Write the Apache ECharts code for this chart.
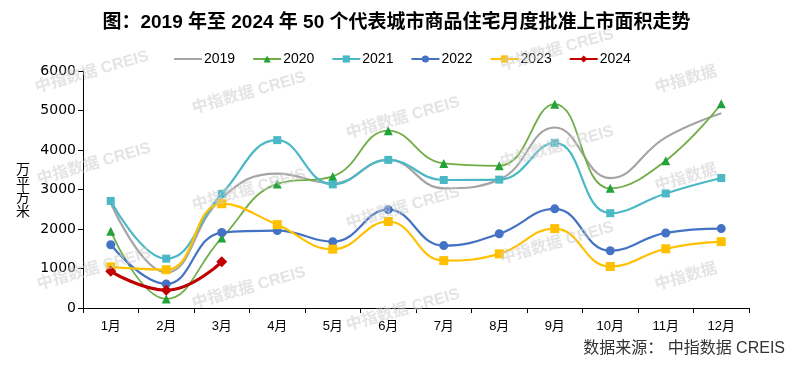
<!DOCTYPE html>
<html>
<head>
<meta charset="utf-8">
<script src="https://cdn.jsdelivr.net/npm/echarts@6/dist/echarts.min.js"></script>
<style>html,body{margin:0;padding:0;background:#fff;}#c{width:793px;height:367px;}</style>
</head>
<body>
<div id="c"></div>
<script>
const months = ['1月','2月','3月','4月','5月','6月','7月','8月','9月','10月','11月','12月'];
const s2019 = [2650, 900, 2780, 3400, 3160, 3750, 3030, 3250, 4570, 3290, 4320, 4930];
const s2020 = [1940, 230, 1770, 3140, 3330, 4490, 3660, 3600, 5160, 3030, 3730, 5170];
const s2021 = [2710, 1250, 2890, 4250, 3130, 3750, 3240, 3250, 4180, 2400, 2900, 3290];
const s2022 = [1600, 610, 1910, 1960, 1680, 2490, 1580, 1880, 2510, 1450, 1900, 2010];
const s2023 = [1040, 970, 2640, 2110, 1490, 2190, 1200, 1370, 2010, 1050, 1500, 1680];
const s2024 = [930, 450, 1170];
const yTicks = [0, 1000, 2000, 3000, 4000, 5000, 6000];

const chart = echarts.init(document.getElementById('c'), null, {renderer: 'canvas'});

const wmFont = {fontSize: 16, fontWeight: 'bold', fontFamily: 'Liberation Sans, Noto Sans CJK SC, sans-serif', fill: 'rgba(205,205,205,0.55)'};
const wmSpots = [
  [92, 72, '中指数据 CREIS'], [249, 93, '中指数据 CREIS'], [94, 164, '中指数据 CREIS'],
  [249, 190, '中指数据 CREIS'], [94, 269, '中指数据 CREIS'], [249, 288, '中指数据 CREIS'],
  [403, 118, '中指数据 CREIS'], [403, 208, '中指数据 CREIS'], [403, 310, '中指数据 CREIS'],
  [557, 50, '中指数据 CREIS'], [557, 147, '中指数据 CREIS'], [557, 243, '中指数据 CREIS'],
  [686, 80, '中指数据'], [686, 178, '中指数据'], [686, 277, '中指数据']
];
const graphics = wmSpots.map(p => ({
  type: 'text', x: p[0], y: p[1], rotation: 0.28, z: 100, silent: true,
  style: Object.assign({text: p[2], align: 'center', verticalAlign: 'middle'}, wmFont)
}));
graphics.push({
  type: 'text', right: 8, top: 341, z: 10,
  style: {text: '数据来源： 中指数据 CREIS', fontSize: 16, fill: '#333', fontFamily: 'Liberation Sans, Noto Sans CJK SC, sans-serif'}
});

function mk(name, data, color, symbol, size, width, markerColor) {
  return {
    name: name, type: 'line', data: data, smooth: 0.45,
    symbol: symbol, symbolSize: size, showSymbol: symbol !== 'none',
    lineStyle: {color: color, width: width},
    itemStyle: {color: markerColor || color},
    emphasis: {disabled: true}, animation: false
  };
}

chart.setOption({
  backgroundColor: '#fff',
  animation: false,
  title: {
    text: '图：2019 年至 2024 年 50 个代表城市商品住宅月度批准上市面积走势',
    left: 'center', top: 8,
    textStyle: {fontSize: 19, fontWeight: 'bold', color: '#000', fontFamily: 'Liberation Sans, Noto Sans CJK SC, sans-serif'}
  },
  legend: {
    left: 168, top: 47, itemWidth: 28, itemHeight: 9, itemGap: 17,
    textStyle: {fontSize: 14, color: '#000', fontFamily: 'Liberation Sans, sans-serif', padding: [0,0,0,-3]},
    data: [
      {name: '2019', itemStyle: {color: 'rgba(0,0,0,0)', borderWidth: 0}},
      '2020','2021','2022','2023','2024'
    ]
  },
  grid: {left: 83, right: 44, top: 71, bottom: 59, containLabel: false},
  xAxis: {
    type: 'category', data: months, boundaryGap: true,
    axisLine: {lineStyle: {color: '#000', width: 1}},
    axisTick: {show: true, length: 5, alignWithLabel: false, lineStyle: {color: '#000'}},
    axisLabel: {color: '#000', fontSize: 13, margin: 12, fontFamily: 'Liberation Sans, Noto Sans CJK SC, sans-serif'}
  },
  yAxis: {
    type: 'value', min: yTicks[0], max: yTicks[yTicks.length - 1], interval: 1000,
    name: '万\n平\n方\n米', nameLocation: 'middle', nameRotate: 0, nameGap: 53,
    nameTextStyle: {fontSize: 14, color: '#000', lineHeight: 14, fontFamily: 'Noto Sans CJK SC, sans-serif'},
    axisLine: {show: true, lineStyle: {color: '#000', width: 1}},
    axisTick: {show: true, length: 5, lineStyle: {color: '#000'}},
    splitLine: {show: false},
    axisLabel: {color: '#000', fontSize: 14, margin: 7, fontFamily: 'DejaVu Sans, sans-serif', formatter: v => String(v)}
  },
  graphic: graphics,
  series: [
    mk('2019', s2019, '#A5A5A5', 'none', 0, 2.2),
    mk('2020', s2020, '#70AD47', 'triangle', 9, 1.8, '#22A33A'),
    mk('2021', s2021, '#4BB8C6', 'rect', 8, 2.2),
    mk('2022', s2022, '#4472C4', 'circle', 9, 2.2),
    mk('2023', s2023, '#FFC000', 'rect', 9, 2.2),
    mk('2024', s2024, '#C00000', 'diamond', 11, 3.2)
  ]
});
</script>
</body>
</html>
